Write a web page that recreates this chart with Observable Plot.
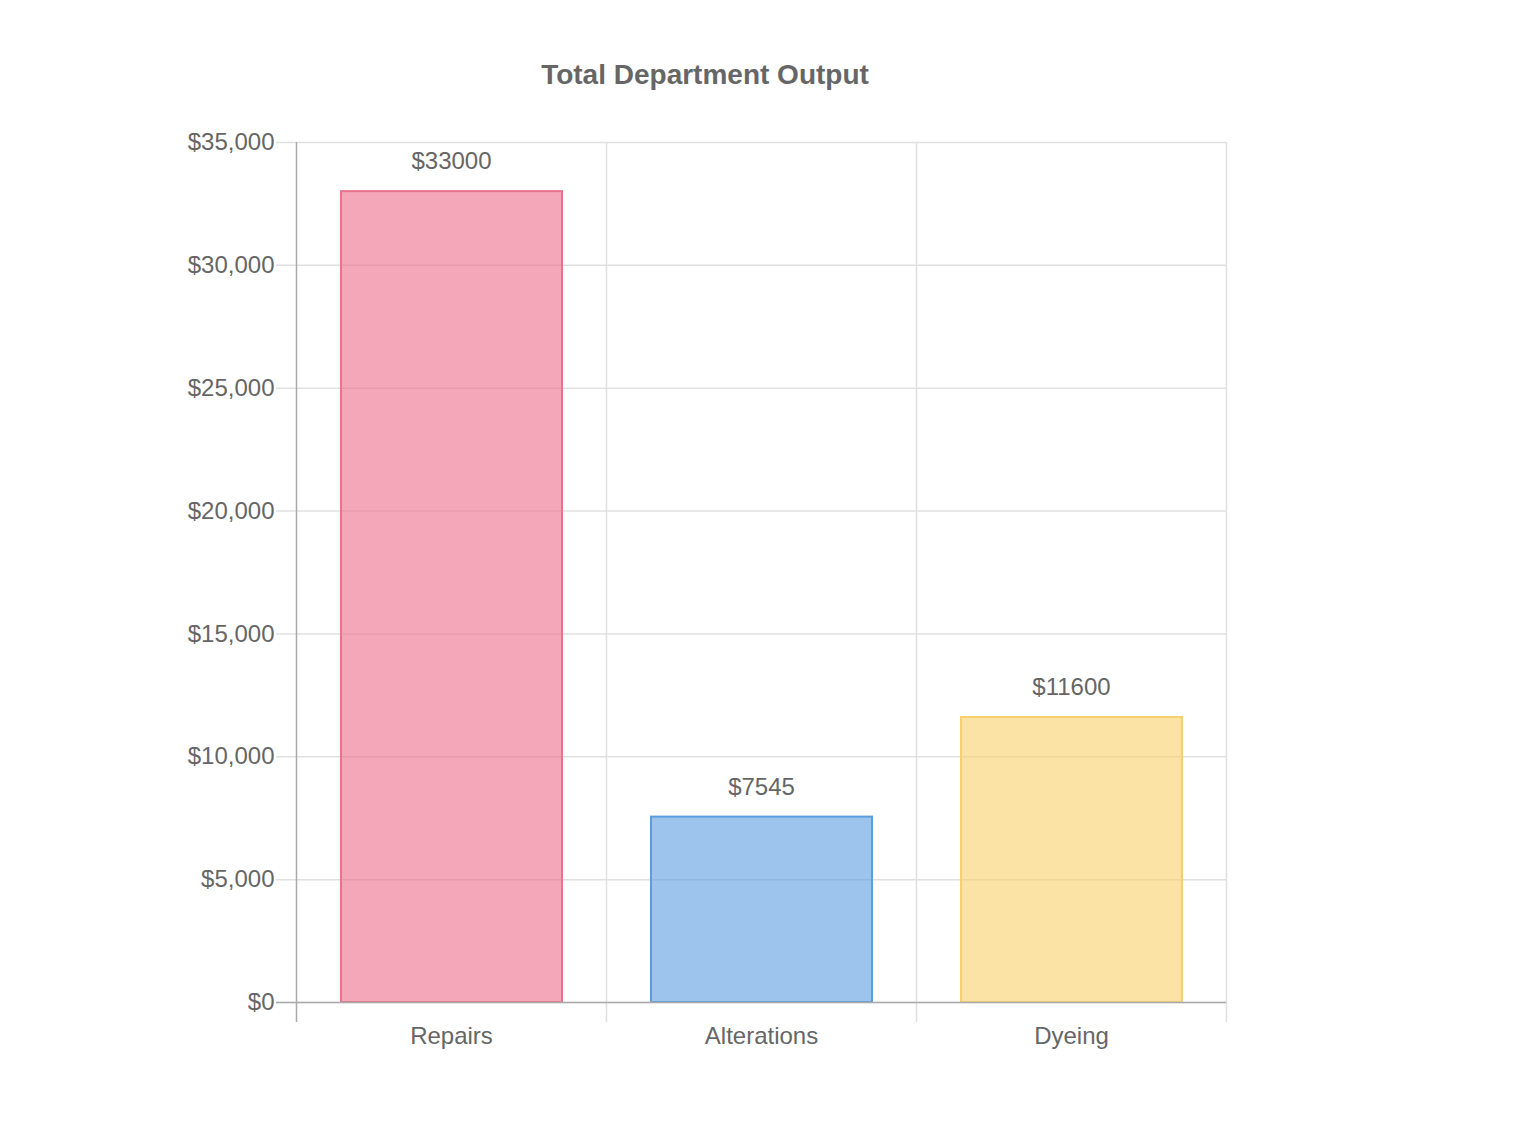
<!DOCTYPE html>
<html>
<head>
<meta charset="utf-8">
<script src="https://cdn.jsdelivr.net/npm/d3@7"></script>
<script src="https://cdn.jsdelivr.net/npm/@observablehq/plot@0.6"></script>
<style>
  body { margin: 0; background: #fff; font-family: "Liberation Sans", Arial, sans-serif; }
  #wrap { position: relative; width: 1520px; }
  #title { position: relative; height: 110px; }
  #title span { position: absolute; left: 0; top: 61px; width: 1410px; text-align: center;
    font: bold 28px/28px "Liberation Sans", Arial, sans-serif; color: #666; }
</style>
</head>
<body>
<div id="wrap">
  <div id="title"><span>Total Department Output</span></div>
  <div id="chart"></div>
</div>
<script>
const categories = ["Repairs", "Alterations", "Dyeing"];
const values = [33000, 7545, 11600];
const fills = ["#ed6c89", "#5a9ddf", "#f7d069"];
const strokes = ["#e9728c", "#5a9ee0", "#f7cf6f"];
const yTicks = [0, 5000, 10000, 15000, 20000, 25000, 30000, 35000];

const data = categories.map((c, i) => ({category: c, index: i, value: values[i], fill: fills[i], stroke: strokes[i]}));
const boundaries = d3.range(categories.length + 1);
const fmtTick = d3.format("$,");

const chart = Plot.plot({
  width: 1520,
  height: 1024,
  marginTop: 32,
  marginBottom: 132,
  marginLeft: 296,
  marginRight: 294,
  x: {domain: [0, categories.length], axis: null},
  y: {domain: [0, 35000], axis: null},
  style: {fontFamily: "'Liberation Sans', Arial, sans-serif", fontSize: "24px", color: "#666", background: "#fff"},
  marks: [
    Plot.ruleY(yTicks, {y: d => d, stroke: "#e0e0e0", strokeWidth: 1.5, strokeOpacity: 1, insetLeft: -20}),
    Plot.ruleX(boundaries.slice(1), {x: d => d, stroke: "#e0e0e0", strokeWidth: 1.5, strokeOpacity: 1, insetBottom: -20}),
    Plot.rectY(data, {
      x1: d => d.index, x2: d => d.index + 1, y1: 0, y2: "value",
      insetLeft: 45, insetRight: 44,
      fill: d => d.fill, fillOpacity: 0.6,
      stroke: d => d.stroke, strokeWidth: 2
    }),
    Plot.ruleX([0], {x: d => d, stroke: "#aaa", strokeWidth: 1.5, strokeOpacity: 1, insetBottom: -20}),
    Plot.ruleY([0], {y: d => d, stroke: "#aaa", strokeWidth: 1.5, strokeOpacity: 1, insetLeft: -20}),
    Plot.text(yTicks, {x: 0, y: d => d, text: d => fmtTick(d), textAnchor: "end", dx: -22, fill: "#666", fontSize: 24}),
    Plot.text(data, {x: d => d.index + 0.5, y: 0, text: "category", dy: 34, fill: "#666", fontSize: 24}),
    Plot.text(data, {x: d => d.index + 0.5, y: "value", text: d => "$" + d.value, dy: -30, fill: "#666", fontSize: 24})
  ]
});
document.getElementById("chart").appendChild(chart);
</script>
</body>
</html>
